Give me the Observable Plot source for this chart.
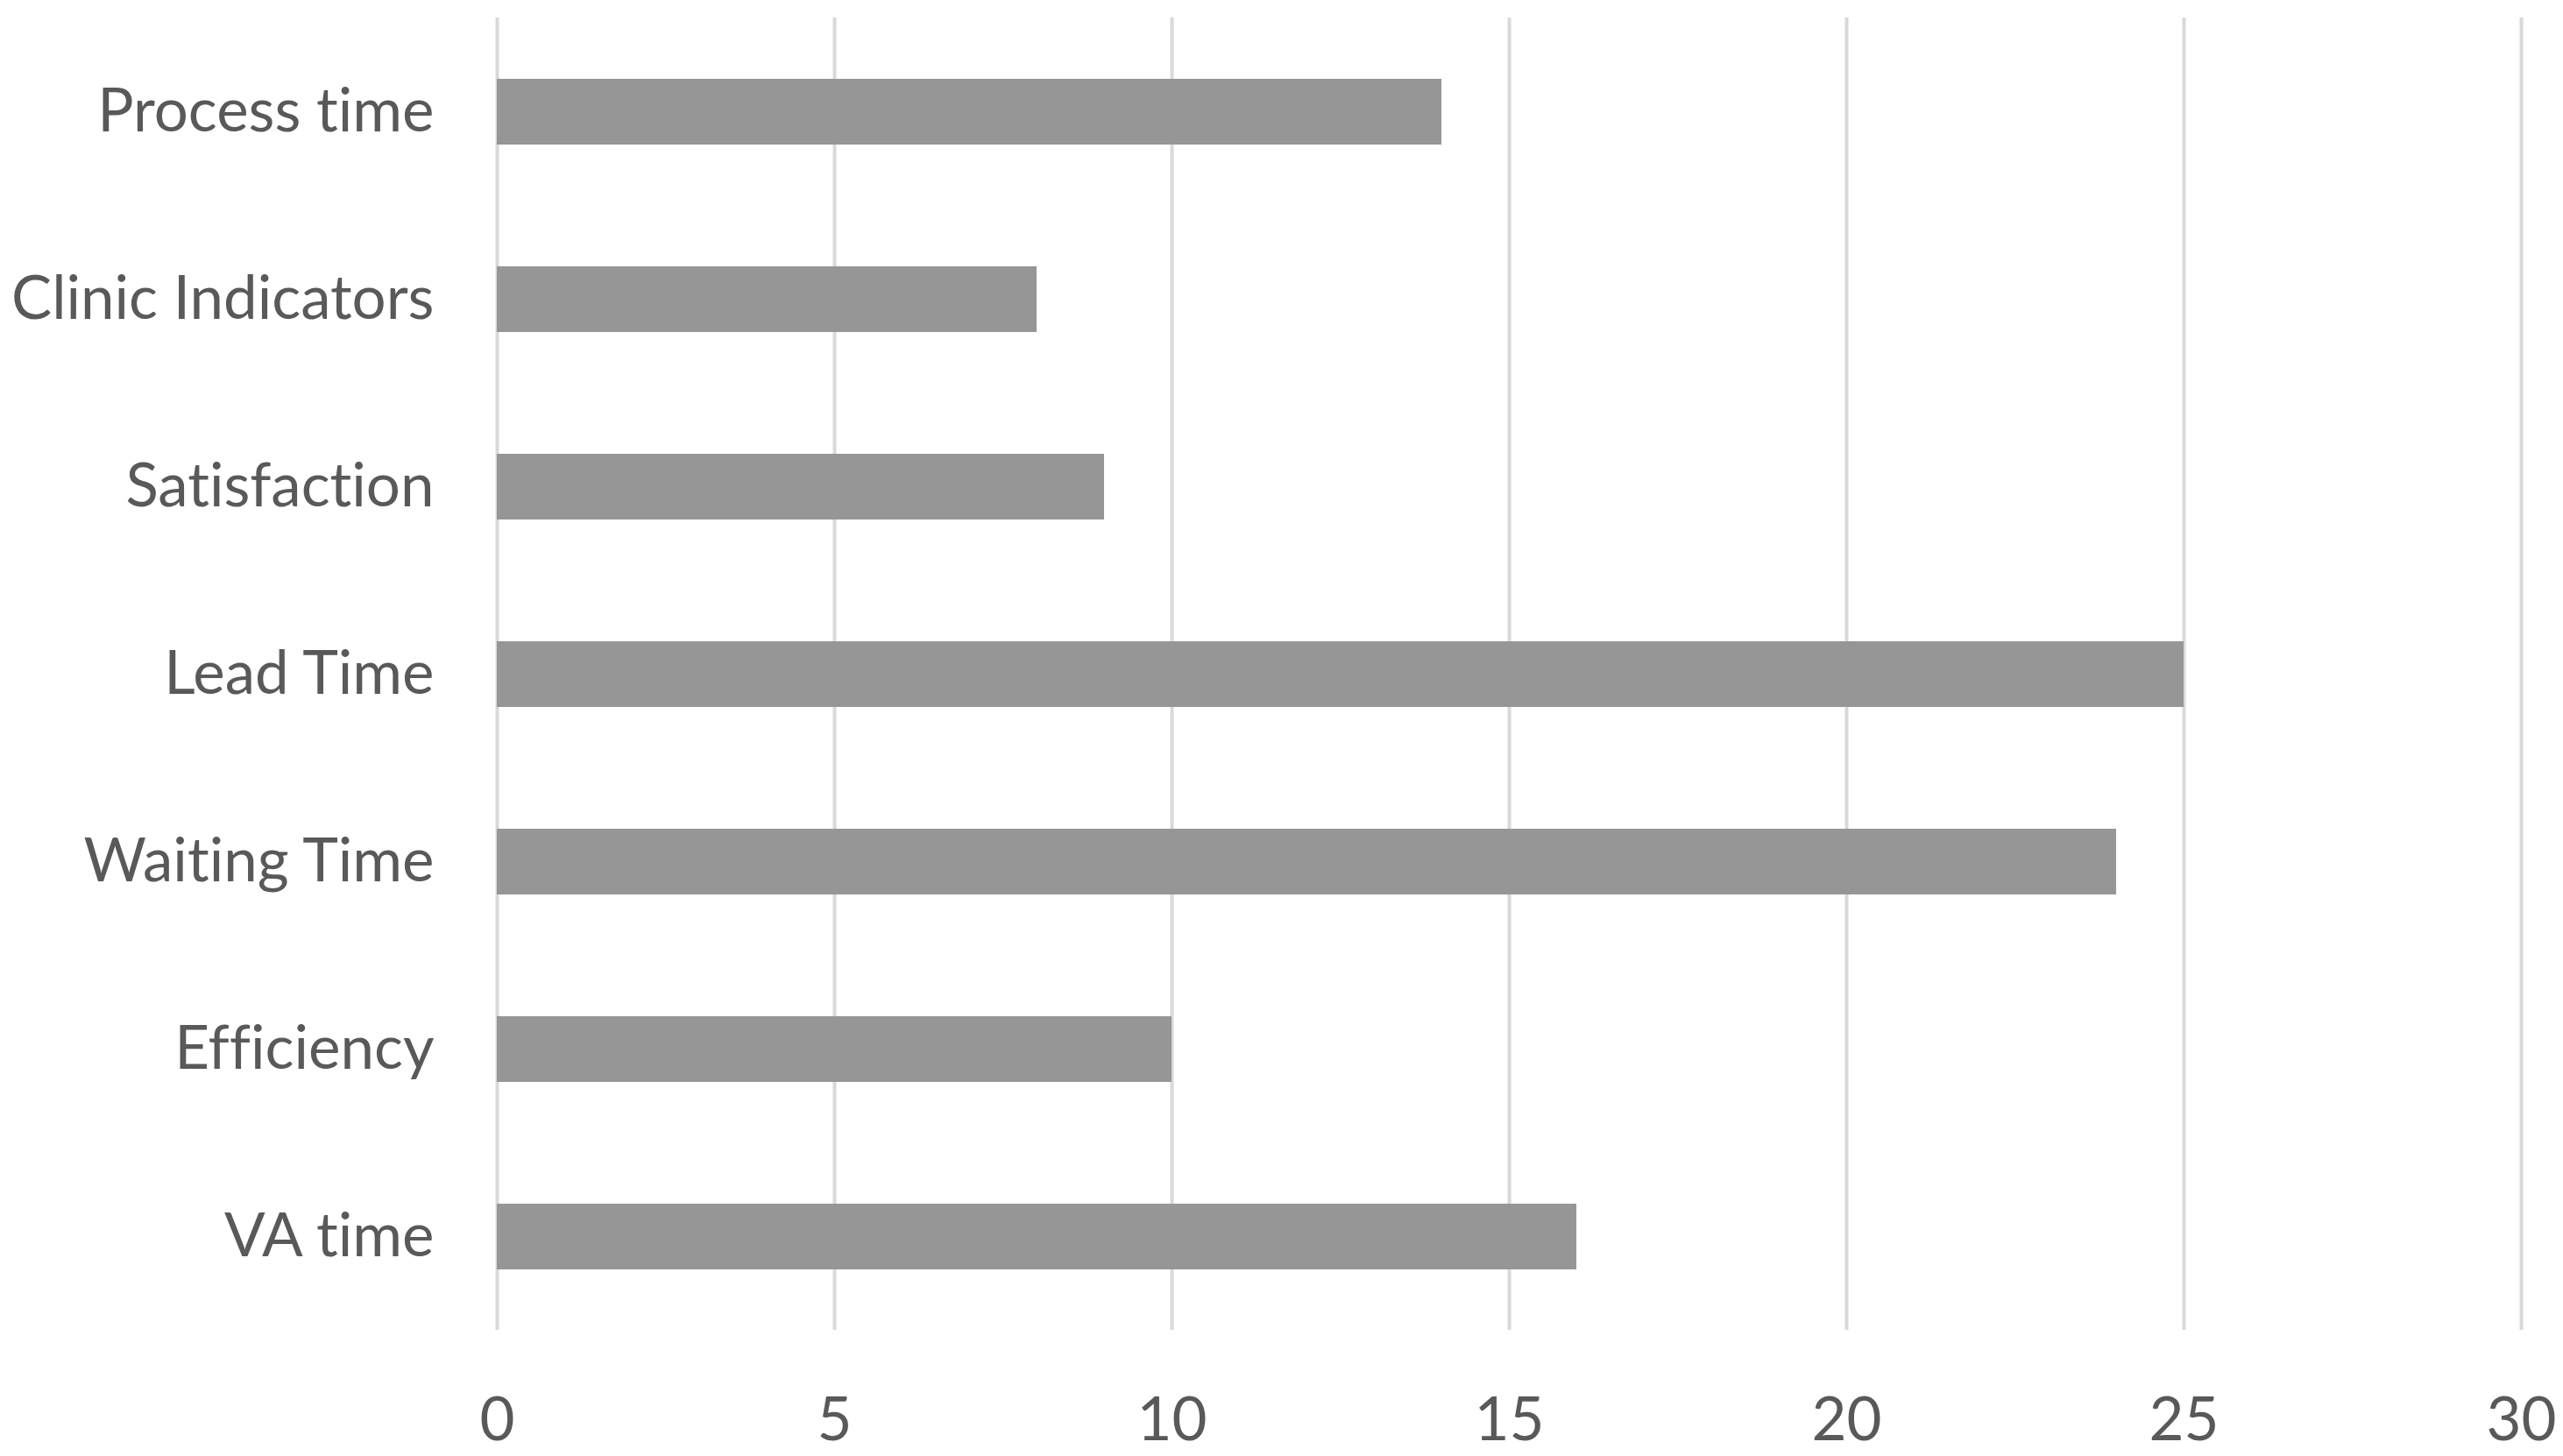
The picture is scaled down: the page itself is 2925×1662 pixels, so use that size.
<!DOCTYPE html>
<html>
<head>
<meta charset="utf-8">
<script src="https://cdn.jsdelivr.net/npm/d3@7"></script>
<script src="https://cdn.jsdelivr.net/npm/@observablehq/plot@0.6"></script>
<style>
  html, body { margin: 0; padding: 0; background: #ffffff; }
  #chart svg { display: block; }
  #chart svg text { font-variant-ligatures: none; font-feature-settings: "liga" 0, "clig" 0; }
</style>
</head>
<body>
<div id="chart"></div>
<script>
const categories = ["Process time", "Clinic Indicators", "Satisfaction", "Lead Time", "Waiting Time", "Efficiency", "VA time"];
const values = [14, 8, 9, 25, 24, 10, 16];
const xTicks = [0, 5, 10, 15, 20, 25, 30];

const data = categories.map((c, i) => ({category: c, value: values[i]}));

const chart = Plot.plot({
  width: 2925,
  height: 1662,
  marginLeft: 567,
  marginRight: 48,
  marginTop: 20,
  marginBottom: 144,
  style: {fontFamily: "Lato", fontSize: "69px", color: "#595959", background: "#ffffff"},
  x: {domain: [0, 30], ticks: xTicks, label: null},
  y: {domain: categories, label: null, paddingInner: 0.65, paddingOuter: 0.325},
  marks: [
    Plot.gridX(xTicks, {stroke: "#d9d9d9", strokeOpacity: 1, strokeWidth: 4}),
    Plot.barX(data, {x: "value", y: "category", fill: "#969696"}),
    Plot.axisX(xTicks, {tickSize: 0, tickPadding: 76, fill: "#595959", label: null}),
    Plot.axisY({tickSize: 0, tickPadding: 72, fill: "#595959", label: null})
  ]
});
document.getElementById("chart").appendChild(chart);
</script>
</body>
</html>
